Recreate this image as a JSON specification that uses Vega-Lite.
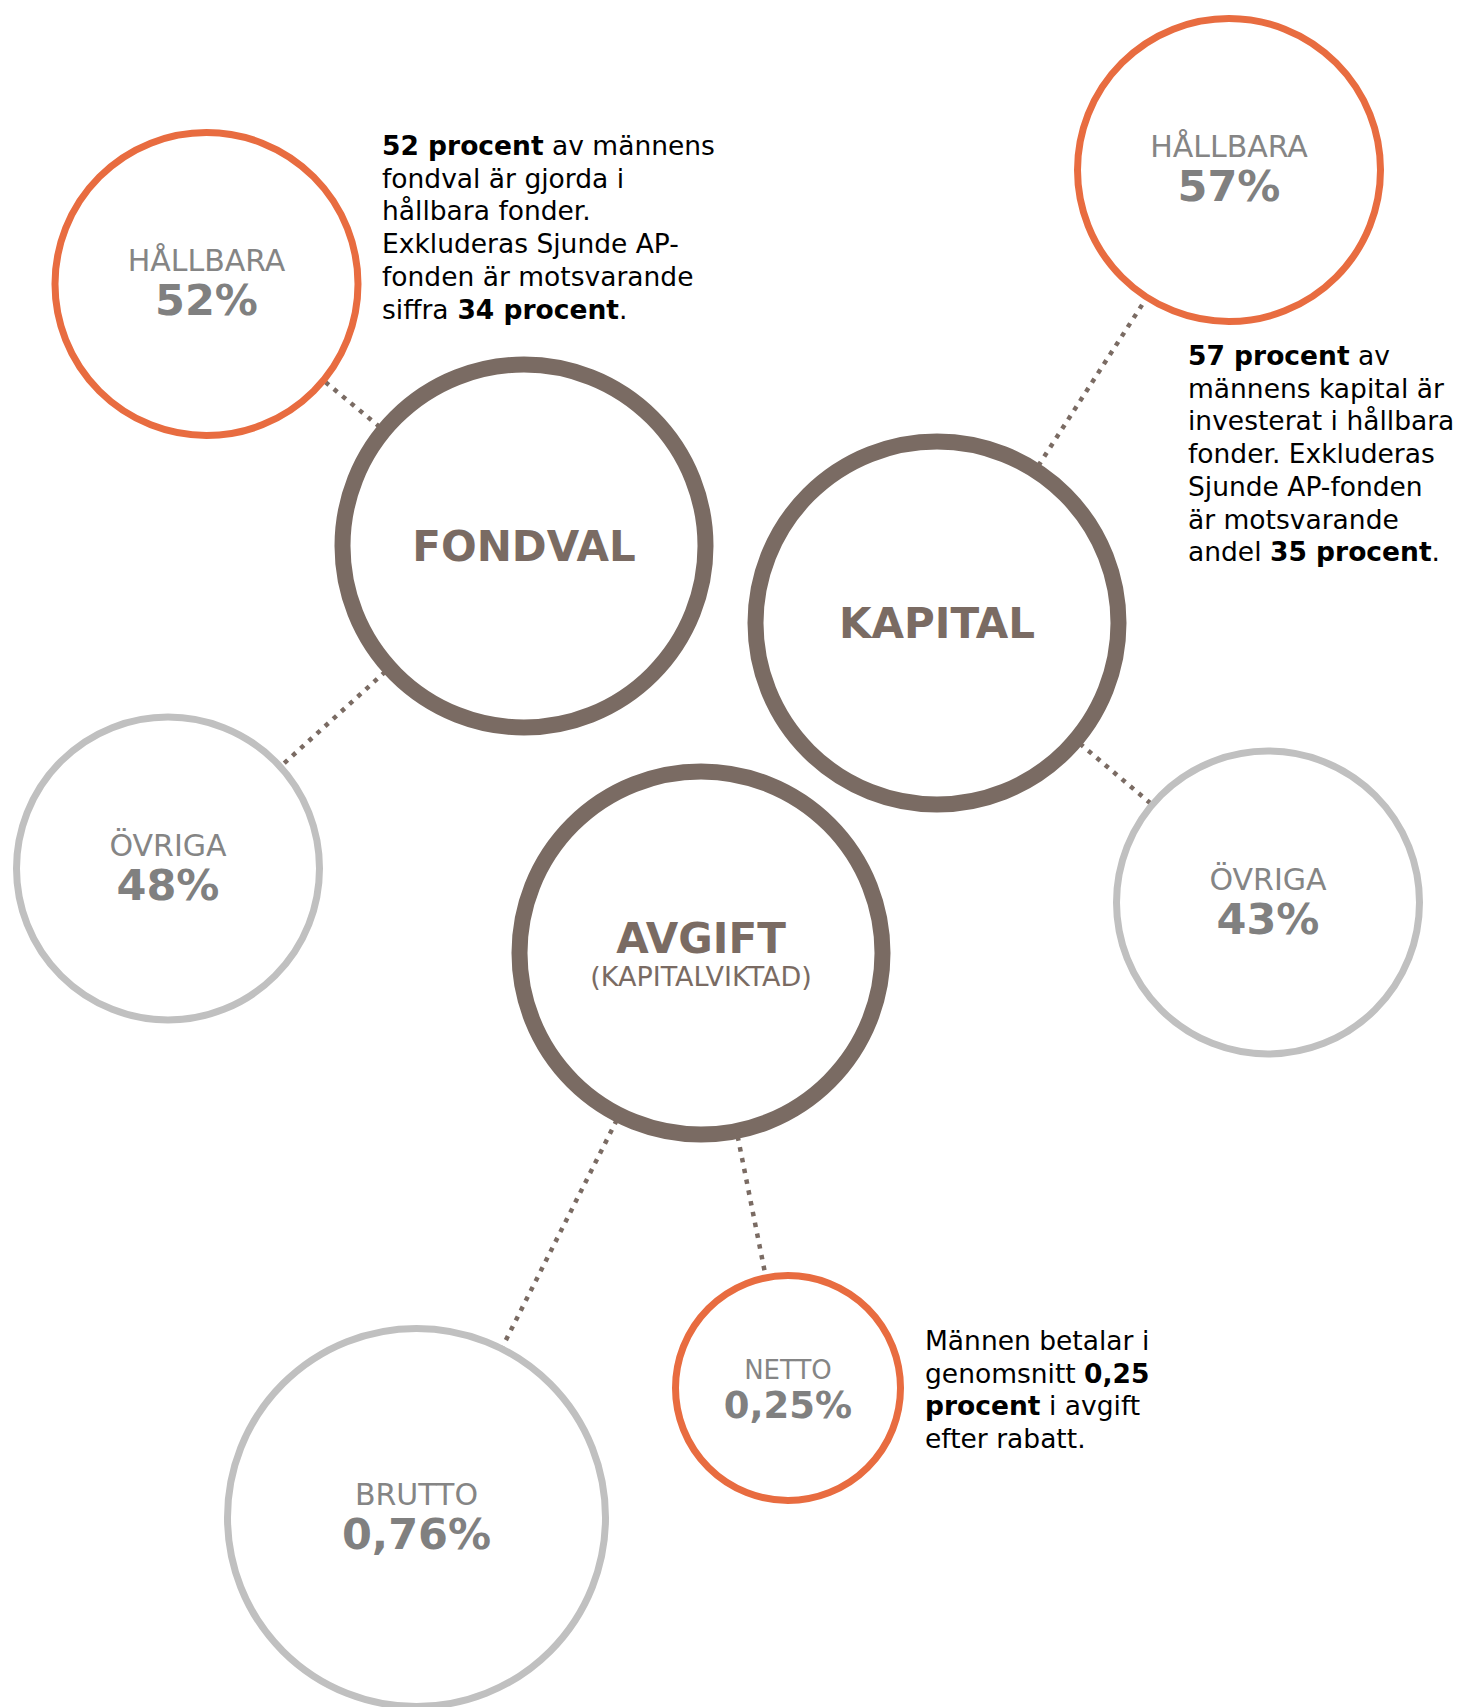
{
  "$schema": "https://vega.github.io/schema/vega-lite/v6.json",
  "width": 1459,
  "height": 1707,
  "padding": 0,
  "autosize": {"type": "none"},
  "background": "white",
  "config": {"view": {"stroke": null}, "font": "DejaVu Sans"},
  "datasets": {
    "cirklar": [
      {"id": "FONDVAL", "x": 524, "y": 546, "typ": "tema", "storlek": "huvud", "etikett": "FONDVAL", "undertitel": null, "värde": null},
      {"id": "KAPITAL", "x": 937, "y": 623, "typ": "tema", "storlek": "huvud", "etikett": "KAPITAL", "undertitel": null, "värde": null},
      {"id": "AVGIFT", "x": 701, "y": 953, "typ": "tema", "storlek": "huvud", "etikett": "AVGIFT", "undertitel": "(KAPITALVIKTAD)", "värde": null},
      {"id": "F_HÅLLBARA", "x": 206.5, "y": 284, "typ": "hållbar", "storlek": "mellan", "etikett": "HÅLLBARA", "värde": "52%"},
      {"id": "F_ÖVRIGA", "x": 168, "y": 868.5, "typ": "övrig", "storlek": "mellan", "etikett": "ÖVRIGA", "värde": "48%"},
      {"id": "K_HÅLLBARA", "x": 1229, "y": 170, "typ": "hållbar", "storlek": "mellan", "etikett": "HÅLLBARA", "värde": "57%"},
      {"id": "K_ÖVRIGA", "x": 1268, "y": 902.5, "typ": "övrig", "storlek": "mellan", "etikett": "ÖVRIGA", "värde": "43%"},
      {"id": "A_NETTO", "x": 788, "y": 1388, "typ": "hållbar", "storlek": "liten", "etikett": "NETTO", "värde": "0,25%"},
      {"id": "A_BRUTTO", "x": 416.5, "y": 1517.5, "typ": "övrig", "storlek": "stor", "etikett": "BRUTTO", "värde": "0,76%"}
    ],
    "kopplingar": [
      {"från": "FONDVAL", "till": "F_HÅLLBARA"},
      {"från": "FONDVAL", "till": "F_ÖVRIGA"},
      {"från": "KAPITAL", "till": "K_HÅLLBARA"},
      {"från": "KAPITAL", "till": "K_ÖVRIGA"},
      {"från": "AVGIFT", "till": "A_NETTO"},
      {"från": "AVGIFT", "till": "A_BRUTTO"}
    ],
    "text_normal": [
      {"x": 552, "y": 155, "text": "av männens"},
      {"x": 382, "y": 187.7, "text": "fondval är gjorda i"},
      {"x": 382, "y": 220.4, "text": "hållbara fonder."},
      {"x": 382, "y": 253.1, "text": "Exkluderas Sjunde AP-"},
      {"x": 382, "y": 285.8, "text": "fonden är motsvarande"},
      {"x": 382, "y": 318.5, "text": "siffra"},
      {"x": 619, "y": 318.5, "text": "."},
      {"x": 1358, "y": 365, "text": "av"},
      {"x": 1188, "y": 397.7, "text": "männens kapital är"},
      {"x": 1188, "y": 430.4, "text": "investerat i hållbara"},
      {"x": 1188, "y": 463.1, "text": "fonder. Exkluderas"},
      {"x": 1188, "y": 495.8, "text": "Sjunde AP-fonden"},
      {"x": 1188, "y": 528.5, "text": "är motsvarande"},
      {"x": 1188, "y": 561.2, "text": "andel"},
      {"x": 1431.5, "y": 561.2, "text": "."},
      {"x": 925, "y": 1350, "text": "Männen betalar i"},
      {"x": 925, "y": 1382.7, "text": "genomsnitt"},
      {"x": 1049, "y": 1415.4, "text": "i avgift"},
      {"x": 925, "y": 1448.1, "text": "efter rabatt."}
    ],
    "text_fet": [
      {"x": 382, "y": 155, "text": "52 procent"},
      {"x": 457.4, "y": 318.5, "text": "34 procent"},
      {"x": 1188, "y": 365, "text": "57 procent"},
      {"x": 1270, "y": 561.2, "text": "35 procent"},
      {"x": 1084, "y": 1382.7, "text": "0,25"},
      {"x": 925, "y": 1415.4, "text": "procent"}
    ]
  },
  "layer": [
    {
      "data": {"name": "kopplingar"},
      "transform": [
        {"lookup": "från", "from": {"data": {"name": "cirklar"}, "key": "id", "fields": ["x", "y"]}, "as": ["x1", "y1"]},
        {"lookup": "till", "from": {"data": {"name": "cirklar"}, "key": "id", "fields": ["x", "y"]}, "as": ["x2", "y2"]}
      ],
      "mark": {"type": "rule", "color": "#7A6B63", "strokeWidth": 4.5, "strokeDash": [4.5, 6.5], "opacity": 1},
      "encoding": {
        "x": {"field": "x1", "type": "quantitative", "scale": {"domain": [0, 1459], "nice": false, "zero": false}, "axis": null},
        "y": {"field": "y1", "type": "quantitative", "scale": {"domain": [0, 1707], "nice": false, "zero": false, "reverse": true}, "axis": null},
        "x2": {"field": "x2"},
        "y2": {"field": "y2"}
      }
    },
    {
      "data": {"name": "cirklar"},
      "mark": {"type": "point", "shape": "circle", "filled": true, "fill": "white", "opacity": 1, "fillOpacity": 1, "strokeOpacity": 1},
      "encoding": {
        "x": {"field": "x", "type": "quantitative", "scale": {"domain": [0, 1459], "nice": false, "zero": false}, "axis": null},
        "y": {"field": "y", "type": "quantitative", "scale": {"domain": [0, 1707], "nice": false, "zero": false, "reverse": true}, "axis": null},
        "size": {"field": "storlek", "type": "nominal", "scale": {"type": "ordinal", "domain": ["huvud", "mellan", "liten", "stor"], "range": [131769, 91809, 50625, 142884]}, "legend": null},
        "strokeWidth": {"field": "storlek", "type": "nominal", "scale": {"type": "ordinal", "domain": ["huvud", "mellan", "liten", "stor"], "range": [16, 7, 7, 7]}, "legend": null},
        "stroke": {"field": "typ", "type": "nominal", "scale": {"domain": ["tema", "hållbar", "övrig"], "range": ["#7A6B63", "#E86C40", "#C0C0C0"]}, "legend": null}
      }
    },
    {
      "data": {"name": "cirklar"},
      "transform": [{"filter": "datum.typ !== 'tema' && datum.storlek !== 'liten'"}],
      "mark": {"type": "text", "align": "center", "baseline": "alphabetic", "fontSize": 30, "color": "#858585", "dy": -13},
      "encoding": {
        "x": {"field": "x", "type": "quantitative", "axis": null},
        "y": {"field": "y", "type": "quantitative", "axis": null},
        "text": {"field": "etikett"}
      }
    },
    {
      "data": {"name": "cirklar"},
      "transform": [{"filter": "datum.typ !== 'tema' && datum.storlek !== 'liten'"}],
      "mark": {"type": "text", "align": "center", "baseline": "alphabetic", "fontSize": 43, "fontWeight": "bold", "color": "#808080", "dy": 31},
      "encoding": {
        "x": {"field": "x", "type": "quantitative", "axis": null},
        "y": {"field": "y", "type": "quantitative", "axis": null},
        "text": {"field": "värde"}
      }
    },
    {
      "data": {"name": "cirklar"},
      "transform": [{"filter": "datum.storlek === 'liten'"}],
      "mark": {"type": "text", "align": "center", "baseline": "alphabetic", "fontSize": 26, "color": "#858585", "dy": -9},
      "encoding": {
        "x": {"field": "x", "type": "quantitative", "axis": null},
        "y": {"field": "y", "type": "quantitative", "axis": null},
        "text": {"field": "etikett"}
      }
    },
    {
      "data": {"name": "cirklar"},
      "transform": [{"filter": "datum.storlek === 'liten'"}],
      "mark": {"type": "text", "align": "center", "baseline": "alphabetic", "fontSize": 37, "fontWeight": "bold", "color": "#808080", "dy": 30},
      "encoding": {
        "x": {"field": "x", "type": "quantitative", "axis": null},
        "y": {"field": "y", "type": "quantitative", "axis": null},
        "text": {"field": "värde"}
      }
    },
    {
      "data": {"name": "cirklar"},
      "transform": [{"filter": "datum.typ === 'tema' && !datum.undertitel"}],
      "mark": {"type": "text", "align": "center", "baseline": "alphabetic", "fontSize": 42, "fontWeight": "bold", "color": "#7A6B63", "dy": 15},
      "encoding": {
        "x": {"field": "x", "type": "quantitative", "axis": null},
        "y": {"field": "y", "type": "quantitative", "axis": null},
        "text": {"field": "etikett"}
      }
    },
    {
      "data": {"name": "cirklar"},
      "transform": [{"filter": "datum.typ === 'tema' && datum.undertitel"}],
      "mark": {"type": "text", "align": "center", "baseline": "alphabetic", "fontSize": 42, "fontWeight": "bold", "color": "#7A6B63", "dy": 0},
      "encoding": {
        "x": {"field": "x", "type": "quantitative", "axis": null},
        "y": {"field": "y", "type": "quantitative", "axis": null},
        "text": {"field": "etikett"}
      }
    },
    {
      "data": {"name": "cirklar"},
      "transform": [{"filter": "datum.typ === 'tema' && datum.undertitel"}],
      "mark": {"type": "text", "align": "center", "baseline": "alphabetic", "fontSize": 27, "color": "#7A6B63", "dy": 33},
      "encoding": {
        "x": {"field": "x", "type": "quantitative", "axis": null},
        "y": {"field": "y", "type": "quantitative", "axis": null},
        "text": {"field": "undertitel"}
      }
    },
    {
      "data": {"name": "text_normal"},
      "mark": {"type": "text", "align": "left", "baseline": "alphabetic", "fontSize": 26.5, "color": "#000000"},
      "encoding": {
        "x": {"field": "x", "type": "quantitative", "axis": null},
        "y": {"field": "y", "type": "quantitative", "axis": null},
        "text": {"field": "text"}
      }
    },
    {
      "data": {"name": "text_fet"},
      "mark": {"type": "text", "align": "left", "baseline": "alphabetic", "fontSize": 26.5, "fontWeight": "bold", "color": "#000000"},
      "encoding": {
        "x": {"field": "x", "type": "quantitative", "axis": null},
        "y": {"field": "y", "type": "quantitative", "axis": null},
        "text": {"field": "text"}
      }
    }
  ]
}
